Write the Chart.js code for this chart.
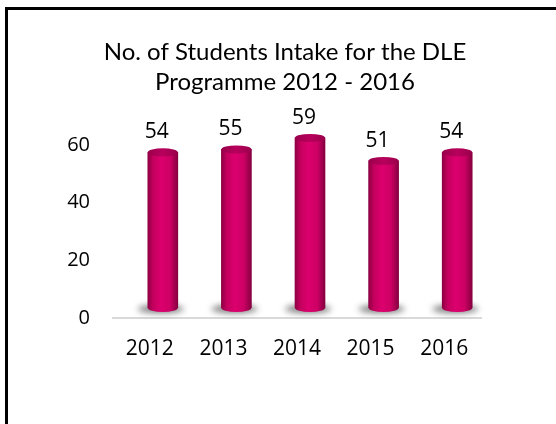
<!DOCTYPE html>
<html>
<head>
<meta charset="utf-8">
<script src="https://cdn.jsdelivr.net/npm/chart.js@4.4.1/dist/chart.umd.min.js"></script>
<style>
  body { margin: 0; background: #fff; }
  #wrap { position: relative; width: 556px; height: 424px; overflow: hidden; }
  #frame { position: absolute; left: 5px; top: 7px; right: -10px; bottom: -10px;
           border-top: 3px solid #000; border-left: 3px solid #000; }
  canvas { position: absolute; left: 0; top: 0; }
</style>
</head>
<body>
<div id="wrap">
  <div id="frame"></div>
  <canvas id="intakeChart" width="556" height="424"></canvas>
</div>
<script>
// chart data
const years = ['2012', '2013', '2014', '2015', '2016'];
const intake = [54, 55, 59, 51, 54];
const yTicks = [0, 20, 40, 60];

const chartTitle = ['No. of Students Intake for the DLE', 'Programme 2012 - 2016'];

// 3D look: bars sit a bit right and up from the axis
const DEPTH_X = 13;
const DEPTH_Y = -10;
const BAR_W = 30;

function bodyGradient(ctx, cx) {
    const g = ctx.createLinearGradient(cx - BAR_W / 2, 0, cx + BAR_W / 2, 0);
    g.addColorStop(0, '#8e0044');
    g.addColorStop(0.18, '#c4005e');
    g.addColorStop(0.45, '#dc006e');
    g.addColorStop(0.75, '#cc0064');
    g.addColorStop(1, '#86003f');
    return g;
}

const cylinderPlugin = {
    id: 'cylinder',
    beforeDatasetsDraw(chart) {
        const ctx = chart.ctx;
        ctx.save();
        ctx.translate(DEPTH_X, DEPTH_Y);
        // soft shadow at the foot of each bar
        chart.getDatasetMeta(0).data.forEach(el => {
            ctx.save();
            ctx.filter = 'blur(3px)';
            ctx.fillStyle = 'rgba(30,30,30,0.6)';
            ctx.beginPath();
            ctx.ellipse(el.x - 2, el.base + 1, BAR_W / 2 + 8, 4, 0, 0, Math.PI * 2);
            ctx.fill();
            ctx.restore();
        });
    },
    afterDatasetsDraw(chart) {
        const ctx = chart.ctx;
        chart.getDatasetMeta(0).data.forEach(el => {
            // rounded bottom
            ctx.fillStyle = bodyGradient(ctx, el.x);
            ctx.beginPath();
            ctx.ellipse(el.x, el.base, BAR_W / 2, 4, 0, 0, Math.PI);
            ctx.fill();
            // top cap
            const g = ctx.createLinearGradient(el.x - BAR_W / 2, 0, el.x + BAR_W / 2, 0);
            g.addColorStop(0, '#9a004b');
            g.addColorStop(0.5, '#b8005c');
            g.addColorStop(1, '#9a004b');
            ctx.fillStyle = g;
            ctx.beginPath();
            ctx.ellipse(el.x, el.y, BAR_W / 2, 4, 0, 0, Math.PI * 2);
            ctx.fill();
        });
        ctx.restore();

        // value labels
        ctx.save();
        ctx.font = '21px "Open Sans"';
        ctx.fillStyle = '#000';
        ctx.textAlign = 'center';
        ctx.textBaseline = 'middle';
        chart.getDatasetMeta(0).data.forEach((el, i) => {
            ctx.fillText(String(intake[i]), el.x + 7, el.y - 30);
        });
        ctx.restore();
    }
};

new Chart(document.getElementById('intakeChart'), {
    type: 'bar',
    data: {
        labels: years,
        datasets: [{
            data: intake,
            barThickness: BAR_W,
            borderWidth: 0,
            backgroundColor: function(c) {
                const xs = c.chart.scales.x;
                if (!xs || c.dataIndex === undefined) return '#d4006a';
                const cx = xs.getPixelForValue(c.dataIndex);
                if (!Number.isFinite(cx)) return '#d4006a';
                return bodyGradient(c.chart.ctx, cx);
            }
        }]
    },
    options: {
        responsive: false,
        animation: false,
        layout: {
            padding: { left: 14, right: 0, top: 0, bottom: 0 }
        },
        plugins: {
            legend: { display: false },
            tooltip: { enabled: false },
            title: {
                display: true,
                text: chartTitle,
                color: '#000',
                font: { family: 'Lato', size: 24, weight: 'normal', lineHeight: 1.25 },
                padding: { top: 37, bottom: 48 }
            }
        },
        scales: {
            x: {
                grid: { display: false, drawTicks: false, tickLength: 0 },
                border: { display: true, color: '#d9d9d9', width: 2 },
                ticks: {
                    color: '#000',
                    font: { family: 'Open Sans', size: 21 },
                    padding: 18
                },
                afterFit(scale) { scale.height = 106; }
            },
            y: {
                min: 0,
                max: 60,
                grid: { display: false, drawTicks: false, tickLength: 0 },
                border: { display: false },
                afterBuildTicks(scale) {
                    scale.ticks = yTicks.map(v => ({ value: v }));
                },
                ticks: {
                    color: '#000',
                    font: { family: 'Open Sans', size: 20 },
                    padding: 23
                },
                afterFit(scale) { scale.width = 99; }
            },
            // empty right-hand spacer so the title stays centred on the frame
            spacer: {
                position: 'right',
                grid: { display: false, drawTicks: false },
                border: { display: false },
                ticks: { display: false },
                afterFit(scale) { scale.width = 75; }
            }
        }
    },
    plugins: [cylinderPlugin]
});
</script>
</body>
</html>
